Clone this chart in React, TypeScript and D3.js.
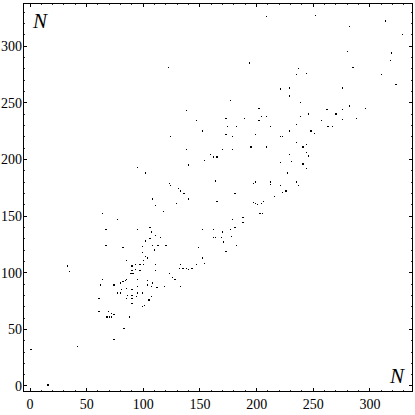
import React from "react";
import * as d3 from "d3";

const nX = [
  252, 209, 314, 282, 329, 280, 319, 318, 194, 122, 285, 237, 235, 244, 310, 323,
  221, 229, 276, 229, 177, 239, 282, 202, 138, 262, 276, 296, 246, 270, 239, 204,
  209, 288, 173, 189, 257, 276, 202, 147, 235, 263, 267, 174, 182, 212, 229, 152,
  248, 251, 173, 199, 179, 124, 221, 223, 235, 244, 241, 138, 170, 179, 195, 209,
  159, 162, 165, 154, 229, 244, 246, 140, 221, 231, 241, 244, 95, 102, 227, 123,
  124, 164, 197, 199, 212, 212, 221, 235, 237, 131, 133, 136, 181, 223, 226, 216,
  108, 140, 165, 197, 199, 201, 204, 206, 111, 129, 118, 203, 205, 64, 77, 179,
  188, 188, 67, 95, 106, 107, 152, 162, 170, 177, 181, 111, 115, 106, 102, 162,
  164, 169, 178, 171, 67, 82, 108, 113, 120, 99, 182, 149, 110, 173, 99, 102,
  104, 100, 152, 85, 33, 35, 90, 93, 97, 100, 111, 133, 132, 135, 138, 140,
  143, 147, 154, 90, 93, 89, 91, 97, 111, 123, 126, 128, 64, 85, 84, 82,
  80, 95, 104, 108, 62, 74, 77, 80, 81, 85, 90, 86, 90, 95, 95, 99,
  104, 107, 112, 119, 133, 107, 105, 101, 99, 61, 85, 90, 90, 94, 61, 69,
  72, 74, 68, 70, 72, 88, 83, 74, 42, 1, 16,
];

const nY = [
  327, 326, 322, 317, 310, 295, 294, 287, 285, 281, 281, 280, 275, 276, 275, 266,
  262, 263, 263, 256, 252, 250, 247, 245, 243, 244, 244, 245, 240, 240, 238, 238,
  238, 236, 236, 236, 234, 235, 234, 234, 231, 229, 229, 229, 229, 229, 225, 225,
  225, 223, 222, 222, 220, 220, 220, 220, 215, 213, 211, 209, 209, 209, 211, 211,
  204, 202, 202, 199, 204, 206, 203, 195, 197, 198, 196, 192, 193, 188, 188, 179,
  177, 181, 179, 180, 180, 178, 177, 180, 177, 174, 172, 170, 170, 171, 172, 167,
  165, 165, 163, 162, 161, 160, 161, 163, 159, 161, 154, 152, 152, 152, 147, 147,
  149, 144, 138, 138, 140, 136, 138, 138, 136, 138, 140, 133, 131, 130, 128, 131,
  131, 131, 132, 127, 124, 122, 124, 124, 124, 123, 124, 122, 120, 119, 118, 114,
  113, 111, 113, 111, 106, 101, 106, 107, 107, 107, 107, 107, 104, 104, 104, 103,
  104, 107, 108, 102, 103, 99, 99, 102, 102, 99, 96, 94, 94, 94, 93, 92,
  91, 94, 93, 91, 89, 89, 82, 82, 85, 86, 85, 80, 80, 88, 82, 82,
  89, 88, 87, 88, 88, 79, 76, 71, 70, 77, 77, 77, 73, 79, 66, 66,
  64, 63, 61, 61, 61, 61, 51, 41, 35, 32, 1,
];

const xTickValues = [0, 50, 100, 150, 200, 250, 300];
const yTickValues = [0, 50, 100, 150, 200, 250, 300];
const minorTickValues = d3.range(0, 340, 10);
const xAxisLabel = "N";
const yAxisLabel = "N";

export default function App() {
  const W = 415;
  const H = 415;
  const left = 23;
  const right = 413;
  const top = 3;
  const bottom = 392;

  const x = d3.scaleLinear().domain([-6.18, 338]).range([left, right]);
  const y = d3.scaleLinear().domain([-5.3, 338]).range([bottom, top]);

  const font = "'Liberation Serif', 'Times New Roman', serif";
  const minorX = minorTickValues.filter((v) => v % 50 !== 0);
  const minorY = minorTickValues.filter((v) => v % 50 !== 0);

  const points = nX.map((v, i) => ({ xv: v, yv: nY[i] }));

  return (
    <svg
      width={W}
      height={H}
      viewBox={`0 0 ${W} ${H}`}
      style={{ position: "absolute", left: 0, top: 0, background: "#fff" }}
    >
      <rect x={0} y={0} width={W} height={H} fill="#fff" />
      {/* points */}
      <g shapeRendering="crispEdges" fill="#000">
        {points.map((p, i) => (
          <rect
            key={i}
            x={x(p.xv) - 0.65}
            y={y(p.yv) - 0.65}
            width={1.3}
            height={1.3}
          />
        ))}
      </g>
      {/* frame */}
      <rect
        x={left + 0.5}
        y={top + 0.5}
        width={right - left - 1}
        height={bottom - top - 1}
        fill="none"
        stroke="#000"
        strokeWidth={1}
        shapeRendering="crispEdges"
      />
      {/* ticks */}
      <g stroke="#000" shapeRendering="crispEdges">
        {xTickValues.map((v) => (
          <g key={"xt" + v}>
            <line x1={x(v)} x2={x(v)} y1={bottom} y2={bottom - 4} strokeWidth={1} />
            <line x1={x(v)} x2={x(v)} y1={top} y2={top + 4} strokeWidth={1} />
          </g>
        ))}
        {yTickValues.map((v) => (
          <g key={"yt" + v}>
            <line x1={left} x2={left + 4} y1={y(v)} y2={y(v)} strokeWidth={1} />
            <line x1={right} x2={right - 4} y1={y(v)} y2={y(v)} strokeWidth={1} />
          </g>
        ))}
        {minorX.map((v) => (
          <g key={"xm" + v}>
            <line x1={x(v)} x2={x(v)} y1={bottom} y2={bottom - 2} strokeWidth={0.8} />
            <line x1={x(v)} x2={x(v)} y1={top} y2={top + 2} strokeWidth={0.8} />
          </g>
        ))}
        {minorY.map((v) => (
          <g key={"ym" + v}>
            <line x1={left} x2={left + 2} y1={y(v)} y2={y(v)} strokeWidth={0.8} />
            <line x1={right} x2={right - 2} y1={y(v)} y2={y(v)} strokeWidth={0.8} />
          </g>
        ))}
      </g>
      {/* tick labels */}
      <g fontFamily={font} fontSize={14} fill="#000">
        {xTickValues.map((v) => (
          <text key={"xl" + v} x={x(v)} y={409} textAnchor="middle">
            {v}
          </text>
        ))}
        {yTickValues.map((v) => (
          <text key={"yl" + v} x={left - 1} y={y(v) + 5} textAnchor="end">
            {v}
          </text>
        ))}
      </g>
      {/* axis labels */}
      <text x={33} y={28} fontFamily={font} fontStyle="italic" fontSize={21} fill="#000">
        {yAxisLabel}
      </text>
      <text x={390} y={383} fontFamily={font} fontStyle="italic" fontSize={21} fill="#000">
        {xAxisLabel}
      </text>
    </svg>
  );
}
